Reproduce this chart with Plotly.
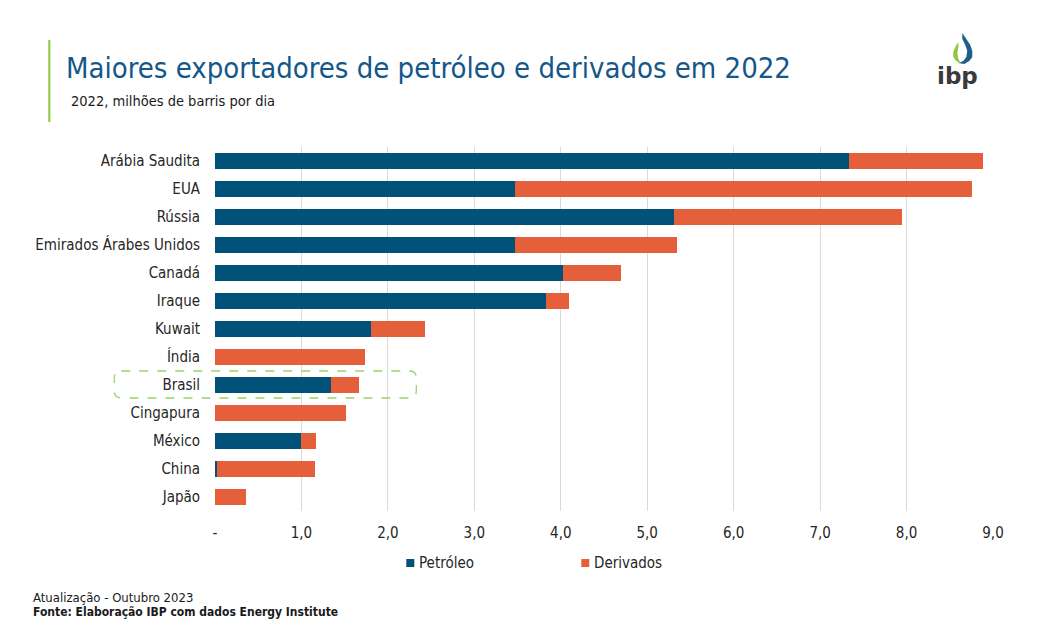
import plotly.graph_objects as go

paises = ["Arábia Saudita", "EUA", "Rússia", "Emirados Árabes Unidos", "Canadá",
          "Iraque", "Kuwait", "Índia", "Brasil", "Cingapura", "México", "China", "Japão"]
petroleo = [7.33, 3.47, 5.31, 3.47, 4.02, 3.83, 1.81, 0.0, 1.345, 0.0, 0.99, 0.025, 0.0]
derivados = [1.55, 5.29, 2.64, 1.88, 0.68, 0.27, 0.62, 1.74, 0.325, 1.52, 0.18, 1.135, 0.36]
series = ["Petróleo", "Derivados"]
tick_vals = [0, 1, 2, 3, 4, 5, 6, 7, 8, 9]
tick_text = ["-", "1,0", "2,0", "3,0", "4,0", "5,0", "6,0", "7,0", "8,0", "9,0"]

# page has an 8px body margin: work in page pixels, convert to figure pixels
OFF = 8
W, H = 1058 - OFF, 635 - OFF
L, R, T, B = 214.7, 992.7, 147, 511   # plot area in page pixels


def px(x):
    return (x - L) / (R - L)


def py(y):
    return (B - y) / (B - T)


FONT = "DejaVu Sans Condensed, Liberation Sans Narrow, DejaVu Sans, sans-serif"
AZUL = "#005279"
LARANJA = "#e55f3a"
TXT = "#262626"

fig = go.Figure()
fig.add_trace(go.Bar(y=paises, x=petroleo, name=series[0], orientation="h",
                     marker=dict(color=AZUL, line=dict(width=0)), showlegend=False))
fig.add_trace(go.Bar(y=paises, x=derivados, name=series[1], orientation="h",
                     marker=dict(color=LARANJA, line=dict(width=0)), showlegend=False))


def rrect(x0, y0, x1, y1, r):
    X0, X1 = px(x0), px(x1)
    Y0, Y1 = py(y0), py(y1)
    rx, ry = r / (R - L), r / (B - T)
    return (f"M {X0+rx},{Y0} L {X1-rx},{Y0} Q {X1},{Y0} {X1},{Y0-ry} "
            f"L {X1},{Y1+ry} Q {X1},{Y1} {X1-rx},{Y1} L {X0+rx},{Y1} "
            f"Q {X0},{Y1} {X0},{Y1+ry} L {X0},{Y0-ry} Q {X0},{Y0} {X0+rx},{Y0} Z")


def pth(points):
    return "M " + " L ".join(f"{px(a)},{py(b)}" for a, b in points) + " Z"


shapes = [
    dict(type="path", xref="paper", yref="paper", path=rrect(114, 371, 416, 398, 7),
         line=dict(color="#9cd46a", width=1.3, dash="dash"), fillcolor="rgba(0,0,0,0)"),
    dict(type="line", xref="paper", yref="paper", x0=px(49), x1=px(49), y0=py(40), y1=py(122),
         line=dict(color="#8dc63f", width=2)),
    # custom legend squares
    dict(type="rect", xref="paper", yref="paper", x0=px(406), x1=px(414), y0=py(559), y1=py(567),
         fillcolor=AZUL, line=dict(width=0)),
    dict(type="rect", xref="paper", yref="paper", x0=px(581), x1=px(589), y0=py(559), y1=py(567),
         fillcolor=LARANJA, line=dict(width=0)),
]

# logo drop
blue_drop = [(962, 33), (966, 39), (970, 45), (972, 51), (972, 57), (969, 61), (964, 64),
             (958, 63), (963, 61), (966, 57), (967, 51), (965, 45), (962, 39)]
green_drop = [(958, 42), (955, 47), (953, 52), (953, 57), (956, 61), (961, 64), (958, 59),
              (957, 53), (958, 47)]
shapes.append(dict(type="path", xref="paper", yref="paper", path=pth(blue_drop),
                   fillcolor="#1d5f8a", line=dict(width=0)))
shapes.append(dict(type="path", xref="paper", yref="paper", path=pth(green_drop),
                   fillcolor="#8dc63f", line=dict(width=0)))

annotations = [
    dict(text="2022, milhões de barris por dia", xref="paper", yref="paper",
         x=px(69), y=py(101), xanchor="left", yanchor="middle", showarrow=False,
         font=dict(family=FONT, size=14.5, color="#1a1a1a")),
    dict(text="<b>ibp</b>", xref="paper", yref="paper", x=px(957), y=py(76),
         xanchor="center", yanchor="middle", showarrow=False,
         font=dict(family="DejaVu Sans, sans-serif", size=23, color="#3a3a3a")),
    dict(text=series[0], xref="paper", yref="paper", x=px(417), y=py(563),
         xanchor="left", yanchor="middle", showarrow=False,
         font=dict(family=FONT, size=15, color=TXT)),
    dict(text=series[1], xref="paper", yref="paper", x=px(592), y=py(563),
         xanchor="left", yanchor="middle", showarrow=False,
         font=dict(family=FONT, size=15, color=TXT)),
    dict(text="Atualização - Outubro 2023", xref="paper", yref="paper",
         x=px(31), y=py(597), xanchor="left", yanchor="middle", showarrow=False,
         font=dict(family=FONT, size=13, color="#1a1a1a")),
    dict(text="<b>Fonte: Elaboração IBP com dados Energy Institute</b>", xref="paper", yref="paper",
         x=px(31), y=py(612), xanchor="left", yanchor="middle", showarrow=False,
         font=dict(family=FONT, size=12, color="#1a1a1a")),
]

fig.update_layout(
    width=W, height=H,
    margin=dict(l=L - OFF, r=W - (R - OFF), t=T - OFF, b=H - (B - OFF), autoexpand=False),
    barmode="stack", bargap=0.43,
    plot_bgcolor="white", paper_bgcolor="white",
    font=dict(family=FONT, size=15, color=TXT),
    title=dict(text="Maiores exportadores de petróleo e derivados em 2022",
               xref="container", yref="container", x=(66 - OFF) / W, y=1 - (68 - OFF) / H,
               xanchor="left", yanchor="middle",
               font=dict(family=FONT, size=29, color="#14578a")),
    xaxis=dict(range=[0, 9], tickvals=tick_vals, ticktext=tick_text,
               showgrid=True, gridcolor="#d9d9d9", gridwidth=1, zeroline=False,
               showline=False, ticks="", ticklabelstandoff=11,
               tickfont=dict(family=FONT, size=15, color=TXT)),
    yaxis=dict(autorange="reversed", showgrid=False, showline=False, ticks="",
               ticklabelstandoff=14, tickfont=dict(family=FONT, size=15, color=TXT)),
    showlegend=False,
    shapes=shapes, annotations=annotations,
)

fig.write_html("out.html")
